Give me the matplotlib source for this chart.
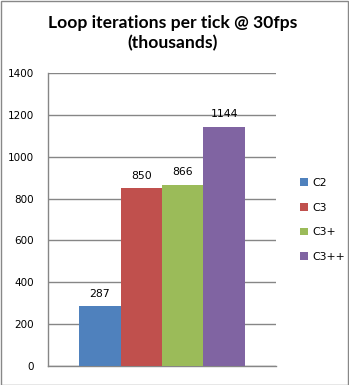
import matplotlib
matplotlib.use("Agg")
import matplotlib.pyplot as plt
from matplotlib.patches import Rectangle

series = ["C2", "C3", "C3+", "C3++"]
values = [287, 850, 866, 1144]
colors = ["#4F81BD", "#C0504D", "#9BBB59", "#8064A2"]
yticks = [0, 200, 400, 600, 800, 1000, 1200, 1400]
title = "Loop iterations per tick @ 30fps\n(thousands)"

fig = plt.figure(figsize=(3.49, 3.85), dpi=100)
fig.patch.set_facecolor("white")
fig.add_artist(Rectangle((0.5 / 349, 0.5 / 385), 1 - 1.5 / 349, 1 - 1.5 / 385,
                         transform=fig.transFigure, fill=False,
                         edgecolor="#888888", linewidth=1.0))

ax = fig.add_axes([48 / 349, 19 / 385, 228 / 349, 293 / 385])
width = 0.182
n = len(values)
offsets = [(i - (n - 1) / 2) * width for i in range(n)]
for name, v, c, off in zip(series, values, colors, offsets):
    ax.bar(off, v, width=width, color=c, label=name, zorder=3)
    ax.text(off, v + 35, str(v), ha="center", va="bottom", fontsize=7.8,
            family="DejaVu Sans", color="black")

ax.set_xlim(-0.5, 0.5)
ax.set_ylim(0, 1400)
ax.set_yticks(yticks)
ax.set_yticklabels([str(t) for t in yticks], fontsize=7.5)
ax.set_xticks([])
ax.tick_params(axis="y", length=0, pad=10)
ax.grid(axis="y", color="#868686", linewidth=1.0, zorder=0)
for s in ["top", "right"]:
    ax.spines[s].set_visible(False)
for s in ["left", "bottom"]:
    ax.spines[s].set_color("#868686")
    ax.spines[s].set_linewidth(1.0)

fig.text(173 / 349, 1 - 33 / 385, title, ha="center", va="center",
         fontsize=12.6, fontweight="bold", family="Lato", linespacing=1.35)

handles, labels = ax.get_legend_handles_labels()
leg = fig.legend(handles, labels, loc="center left",
                 bbox_to_anchor=(295 / 349, 1 - 220 / 385), frameon=False,
                 fontsize=7.8, handlelength=0.7, handleheight=0.7,
                 handletextpad=0.4, labelspacing=1.35, borderpad=0)

fig.savefig("out.png", dpi=100)
